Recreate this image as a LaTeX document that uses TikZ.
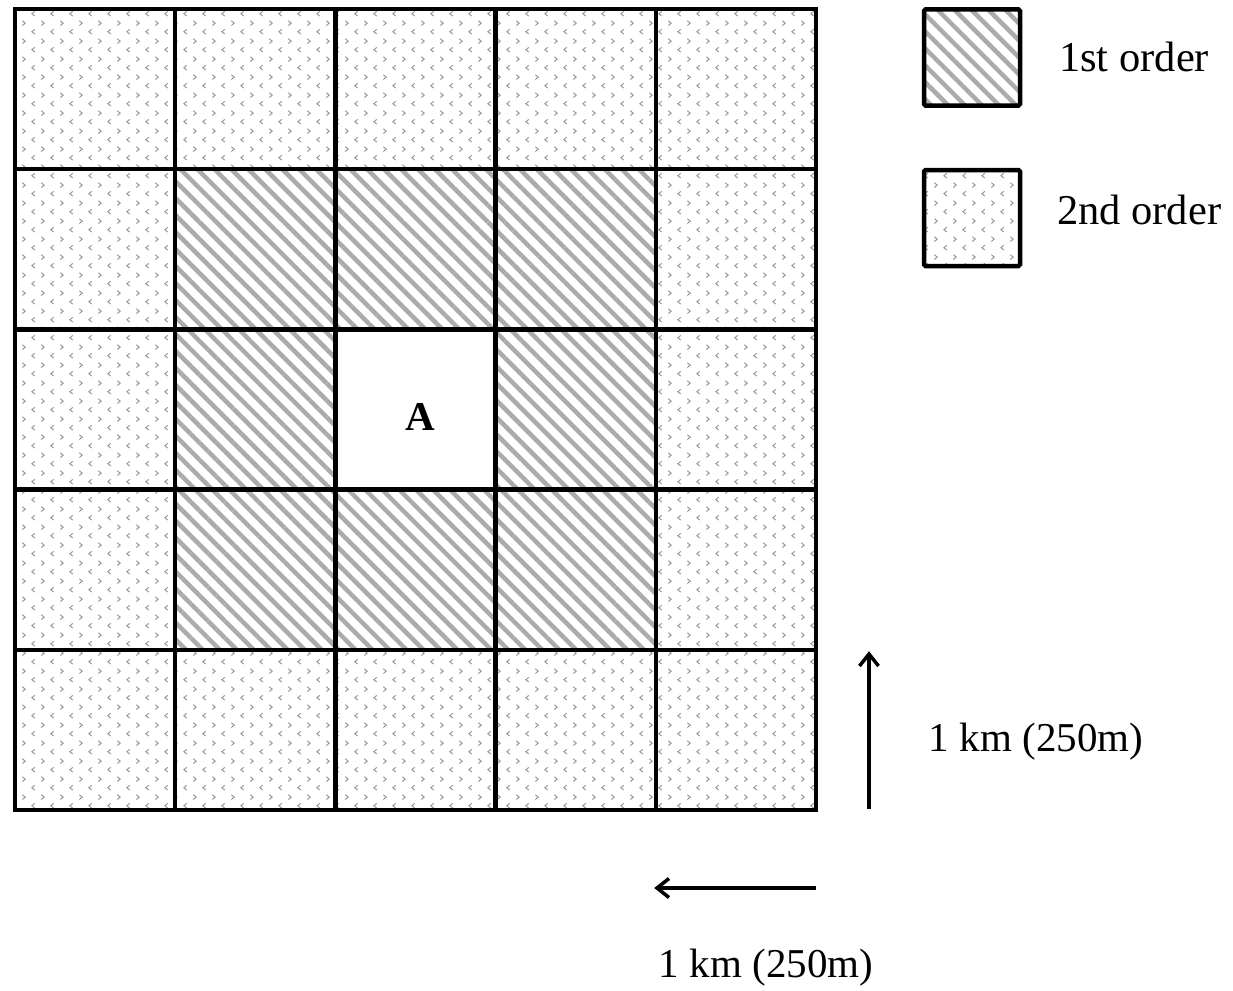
\documentclass[tikz,border=0pt]{standalone}
\usepackage{fontspec}
\setmainfont{Liberation Serif}
\usetikzlibrary{patterns.meta}
\pgfdeclarepattern{
  name=chevrons, type=uncolored,
  bottom left={\pgfpoint{0pt}{0pt}}, top right={\pgfpoint{19pt}{18pt}},
  tile size={\pgfpoint{19pt}{18pt}},
  code={
    \pgfsetlinewidth{1pt}
    \pgfpathmoveto{\pgfpoint{16.5pt}{7pt}}
    \pgfpathlineto{\pgfpoint{13.5pt}{4.5pt}}
    \pgfpathlineto{\pgfpoint{16.5pt}{2pt}}
    \pgfpathmoveto{\pgfpoint{3.5pt}{16pt}}
    \pgfpathlineto{\pgfpoint{6.5pt}{13.5pt}}
    \pgfpathlineto{\pgfpoint{3.5pt}{11pt}}
    \pgfusepath{stroke}
  }
}
\tikzset{
  firstord/.style={pattern={Lines[angle=-45,distance=12pt,line width=4.5pt]}, pattern color=black!33},
  secondord/.style={pattern=chevrons, pattern color=black!42},
  cell/.style={minimum size=160.2pt, inner sep=0pt, outer sep=0pt},
  border/.style={line width=4.5pt, line join=miter},
  legbox/.style={draw, line width=4.5pt, rounded corners=1.5pt, minimum size=96pt, inner sep=0pt},
  lbl/.style={inner sep=0pt, font=\fontsize{41}{48}\selectfont},
  leglbl/.style={inner sep=0pt, anchor=west, font=\fontsize{42.5}{50}\selectfont},
  shaft/.style={line width=3.5pt},
  barb/.style={line width=3.5pt, line join=miter, miter limit=3}
}
\begin{document}
\begin{tikzpicture}[x=1pt,y=-1pt]
\useasboundingbox (0,0) rectangle (1233,990);
% cells
\foreach \i in {0,...,4}{
  \foreach \j in {0,...,4}{
    \pgfmathtruncatemacro{\ring}{max(abs(\i-2),abs(\j-2))}
    \ifnum\ring=2
      \node[cell, secondord] (c\i\j) at ({15+160.2*(\i+0.5)},{9+160.2*(\j+0.5)}) {};
    \else\ifnum\ring=1
      \node[cell, firstord] (c\i\j) at ({15+160.2*(\i+0.5)},{9+160.2*(\j+0.5)}) {};
    \else
      \node[cell] (c\i\j) at ({15+160.2*(\i+0.5)},{9+160.2*(\j+0.5)}) {};
    \fi\fi
  }
}
\node[inner sep=0pt, font=\bfseries\fontsize{41}{48}\selectfont] (atext) at (420,417) {A};
\foreach \i in {0,...,4}{
  \foreach \j in {0,...,4}{
    \draw[border] (c\i\j.south west) rectangle (c\i\j.north east);
  }
}
% legend
\node[legbox, firstord] (leg1) at (972,57.5) {};
\node[legbox, secondord] (leg2) at (972,218) {};
\node[leglbl] (leg1t) at (1059,57) {1st order};
\node[leglbl] (leg2t) at (1057,210) {2nd order};
% scale arrows
\coordinate (up0) at (869,809);
\coordinate (up1) at (869,654);
\draw[shaft] (up0) -- (up1);
\draw[barb] (up1) ++(-9.5,12) -- (up1) -- ++(9.5,12);
\node[lbl] (lblv) at (1036,742) {1 km (250m)};
\coordinate (lf0) at (816,888);
\coordinate (lf1) at (657,888);
\draw[shaft] (lf0) -- (lf1);
\draw[barb] (lf1) ++(12,-9.5) -- (lf1) -- ++(12,9.5);
\node[lbl] (lblh) at (766,968) {1 km (250m)};
\end{tikzpicture}
\end{document}
